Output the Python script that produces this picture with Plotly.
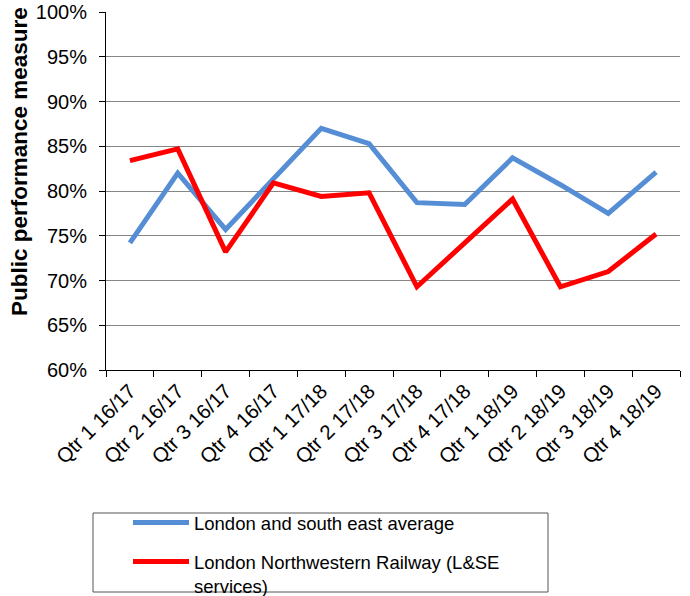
import plotly.graph_objects as go

# Quarterly public performance measure (PPM), %
quarters = [
    "Qtr 1 16/17", "Qtr 2 16/17", "Qtr 3 16/17", "Qtr 4 16/17",
    "Qtr 1 17/18", "Qtr 2 17/18", "Qtr 3 17/18", "Qtr 4 17/18",
    "Qtr 1 18/19", "Qtr 2 18/19", "Qtr 3 18/19", "Qtr 4 18/19",
]
lse_average = [74.2, 82.0, 75.7, 81.3, 87.0, 85.3, 78.7, 78.5, 83.7, 80.7, 77.5, 82.1]
lnr_lse = [83.4, 84.7, 73.2, 80.9, 79.4, 79.8, 69.3, 74.2, 79.1, 69.3, 71.0, 75.2]

series_names = [
    "London and south east average",
    "London Northwestern Railway (L&SE<br>services)",
]
series_colors = ["#558ED5", "#FF0000"]

FONT = "Arial, Liberation Sans, sans-serif"
W, H = 690, 596
L, R, T, B = 106, 10, 12, 226
PW, PH = W - L - R, H - T - B


def px_x(px):
    return (px - L) / PW


def px_y(py):
    return (H - B - py) / PH


fig = go.Figure()
for i, (name, vals, col) in enumerate(zip(series_names, [lse_average, lnr_lse], series_colors)):
    fig.add_trace(go.Scatter(
        x=quarters, y=vals, name=name, mode="lines",
        line=dict(color=col, width=5),
        legendgroup=f"g{i}",
    ))

fig.update_layout(
    width=W, height=H,
    margin=dict(l=L, r=R, t=T, b=B, autoexpand=False),
    paper_bgcolor="white", plot_bgcolor="white",
    font=dict(family=FONT, size=19, color="black"),
    showlegend=True,
    legend=dict(
        x=px_x(128), y=px_y(504), xanchor="left", yanchor="top",
        font=dict(family=FONT, size=18.5, color="black"),
        bgcolor="rgba(0,0,0,0)", borderwidth=0,
        traceorder="grouped", tracegroupgap=12,
        itemwidth=56, valign="top",
    ),
    xaxis=dict(
        type="category", range=[-0.5, len(quarters) - 0.5],
        tickangle=-45, tickson="boundaries", automargin=False,
        ticks="outside", ticklen=6, tickcolor="black",
        showline=True, linecolor="black", linewidth=1,
        showgrid=False, tickfont=dict(size=20.5),
    ),
    yaxis=dict(
        range=[60, 100], dtick=5, ticksuffix="%", automargin=False,
        ticks="outside", ticklen=6, tickcolor="black", ticklabelstandoff=8,
        showline=True, linecolor="black", linewidth=1,
        showgrid=True, gridcolor="#868686", gridwidth=1,
        zeroline=False, tickfont=dict(size=20),
    ),
    shapes=[dict(
        type="rect", xref="paper", yref="paper",
        x0=px_x(93), x1=px_x(548), y0=px_y(592), y1=px_y(513),
        line=dict(color="#555555", width=1), fillcolor="rgba(0,0,0,0)",
    )],
    annotations=[dict(
        text="<b>Public performance measure</b>", textangle=-90,
        xref="paper", yref="paper", x=px_x(20), y=px_y(162),
        xanchor="center", yanchor="middle",
        showarrow=False, font=dict(family=FONT, size=22.5, color="black"),
    )],
)

fig.write_html("out.html")
